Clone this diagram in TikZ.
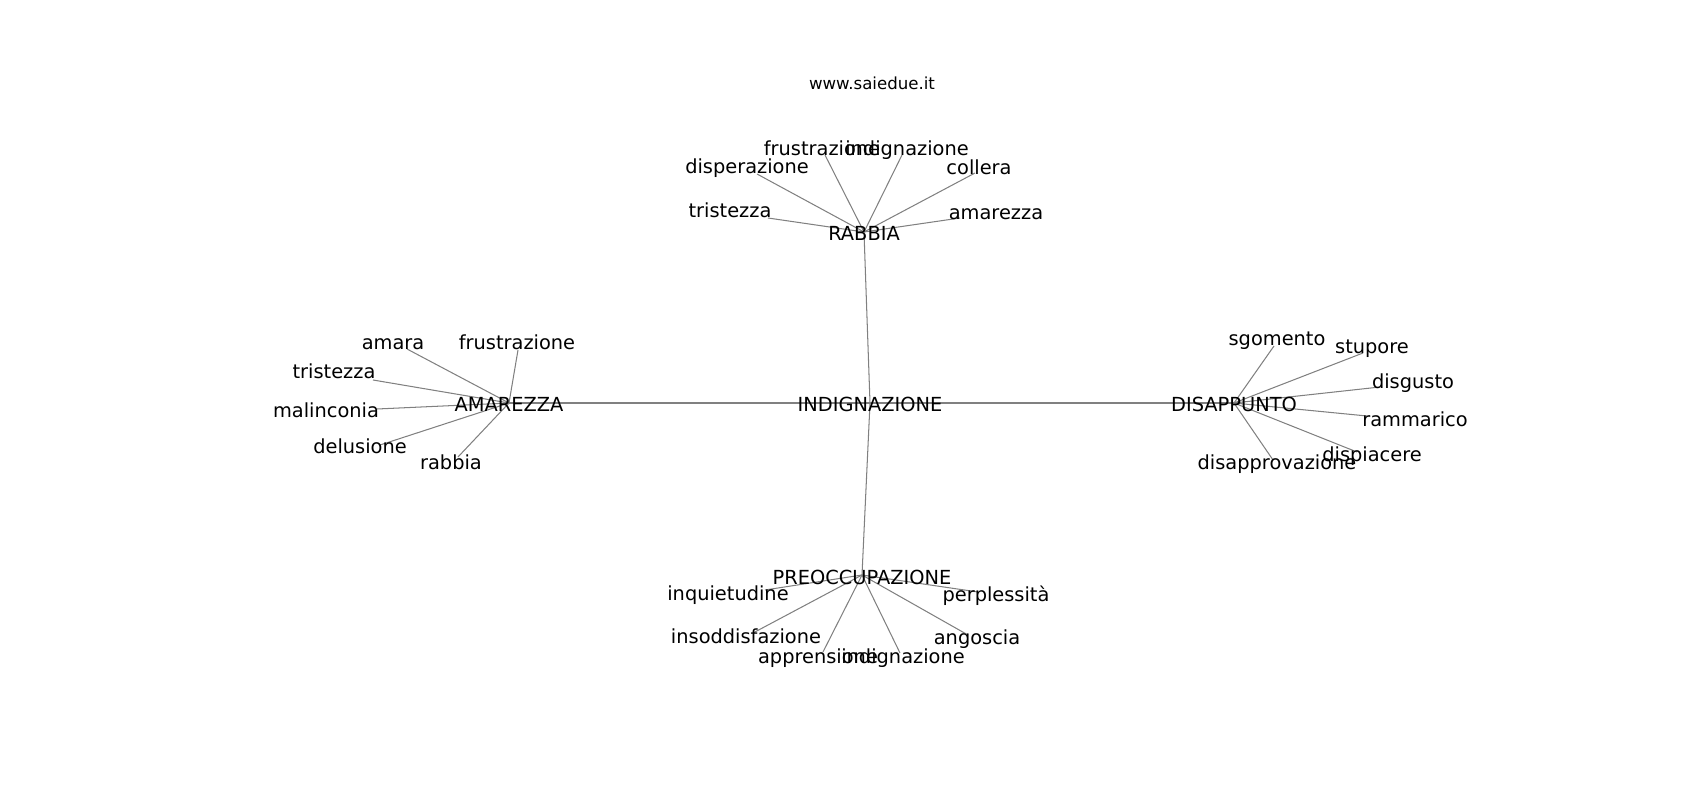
\documentclass[tikz,border=0pt]{standalone}
\usepackage{fontspec}
\setmainfont{DejaVu Sans}
\usetikzlibrary{backgrounds}

\begin{document}
\begin{tikzpicture}[
            x=0.01in, y=-0.01in,
            hub/.style={inner sep=0pt, font=\fontsize{14pt}{17pt}\selectfont, text height=13pt, text depth=0pt},
            leaf/.style={inner sep=0pt, font=\fontsize{14pt}{17pt}\selectfont, text height=13pt, text depth=3pt},
            edge/.style={draw=gray, line width=0.75pt}
        ]
            \useasboundingbox (0,0) rectangle (1700,800);

            % Title
            \node[inner sep=0pt, font=\fontsize{12pt}{14pt}\selectfont] (title) at (872,83) {www.saiedue.it};

            % Hubs
            \node[hub] (ind) at (870,403) {INDIGNAZIONE};
            \node[hub] (rab) at (864,232) {RABBIA};
            \node[hub] (ama) at (509,403) {AMAREZZA};
            \node[hub] (dis) at (1234,403) {DISAPPUNTO};
            \node[hub] (pre) at (862,575) {PREOCCUPAZIONE};

            % Words round RABBIA
            \coordinate (r1) at (768,218); \node[leaf] (r1t) at (730,211) {tristezza};
            \coordinate (r2) at (757,174); \node[leaf] (r2t) at (747,167) {disperazione};
            \coordinate (r3) at (825,155); \node[leaf] (r3t) at (822,149) {frustrazione};
            \coordinate (r4) at (902,155); \node[leaf] (r4t) at (907,149) {indignazione};
            \coordinate (r5) at (975,173); \node[leaf] (r5t) at (979,168) {collera};
            \coordinate (r6) at (960,218); \node[leaf] (r6t) at (996,213) {amarezza};

            % Words round AMAREZZA
            \coordinate (a1) at (407,349); \node[leaf] (a1t) at (393,343) {amara};
            \coordinate (a2) at (518,350); \node[leaf] (a2t) at (517,343) {frustrazione};
            \coordinate (a3) at (373,380); \node[leaf] (a3t) at (334,372) {tristezza};
            \coordinate (a4) at (377,409); \node[leaf] (a4t) at (326,411) {malinconia};
            \coordinate (a5) at (380,445); \node[leaf] (a5t) at (360,447) {delusione};
            \coordinate (a6) at (458,457); \node[leaf] (a6t) at (451,463) {rabbia};

            % Words round DISAPPUNTO
            \coordinate (d1) at (1274,346); \node[leaf] (d1t) at (1277,339) {sgomento};
            \coordinate (d2) at (1363,353); \node[leaf] (d2t) at (1372,347) {stupore};
            \coordinate (d3) at (1380,387); \node[leaf] (d3t) at (1413,382) {disgusto};
            \coordinate (d4) at (1367,416); \node[leaf] (d4t) at (1415,420) {rammarico};
            \coordinate (d5) at (1357,452); \node[leaf] (d5t) at (1372,455) {dispiacere};
            \coordinate (d6) at (1273,460); \node[leaf] (d6t) at (1277,463) {disapprovazione};

            % Words round PREOCCUPAZIONE
            \coordinate (p1) at (765,590); \node[leaf] (p1t) at (728,594) {inquietudine};
            \coordinate (p2) at (753,633); \node[leaf] (p2t) at (746,637) {insoddisfazione};
            \coordinate (p3) at (823,652); \node[leaf] (p3t) at (818,657) {apprensione};
            \coordinate (p4) at (900,653); \node[leaf] (p4t) at (903,657) {indignazione};
            \coordinate (p5) at (968,635); \node[leaf] (p5t) at (977,638) {angoscia};
            \coordinate (p6) at (978,592); \node[leaf] (p6t) at (996,595) {perplessità};

            % Edges behind the words
            \begin{scope}[on background layer]
                \draw[edge] (ind.center) -- (rab.center);
                \draw[edge] (ind.center) -- (ama.center);
                \draw[edge] (ind.center) -- (dis.center);
                \draw[edge] (ind.center) -- (pre.center);

                \draw[edge] (rab.center) -- (r1);
                \draw[edge] (rab.center) -- (r2);
                \draw[edge] (rab.center) -- (r3);
                \draw[edge] (rab.center) -- (r4);
                \draw[edge] (rab.center) -- (r5);
                \draw[edge] (rab.center) -- (r6);

                \draw[edge] (ama.center) -- (a1);
                \draw[edge] (ama.center) -- (a2);
                \draw[edge] (ama.center) -- (a3);
                \draw[edge] (ama.center) -- (a4);
                \draw[edge] (ama.center) -- (a5);
                \draw[edge] (ama.center) -- (a6);

                \draw[edge] (dis.center) -- (d1);
                \draw[edge] (dis.center) -- (d2);
                \draw[edge] (dis.center) -- (d3);
                \draw[edge] (dis.center) -- (d4);
                \draw[edge] (dis.center) -- (d5);
                \draw[edge] (dis.center) -- (d6);

                \draw[edge] (pre.center) -- (p1);
                \draw[edge] (pre.center) -- (p2);
                \draw[edge] (pre.center) -- (p3);
                \draw[edge] (pre.center) -- (p4);
                \draw[edge] (pre.center) -- (p5);
                \draw[edge] (pre.center) -- (p6);
            \end{scope}

        \end{tikzpicture}
\end{document}
